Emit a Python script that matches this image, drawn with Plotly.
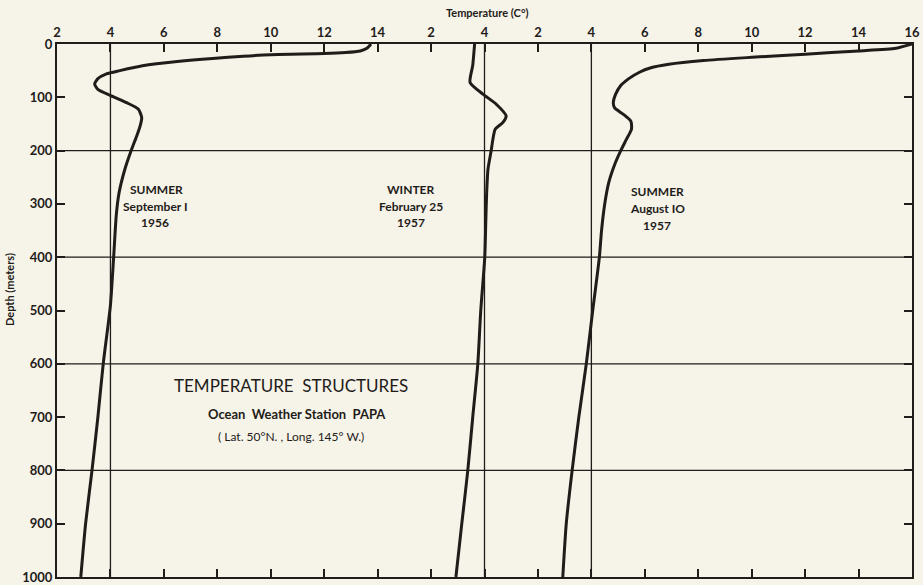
import plotly.graph_objects as go

# ---- data ----
SEPT_DEPTH = [0, 8, 13, 16, 18, 20, 25, 33, 41, 50, 56, 65, 75, 85, 96, 110, 122, 138, 154, 173, 198, 235, 280, 320, 400, 490, 600, 700, 800, 900, 1000]
SEPT_TEMP = [13.75, 13.6, 13.35, 12.8, 12.0, 10.0, 8.4, 6.5, 5.2, 4.35, 3.85, 3.53, 3.41, 3.53, 3.97, 4.6, 5.04, 5.17, 5.11, 4.98, 4.79, 4.54, 4.32, 4.22, 4.12, 4.0, 3.73, 3.53, 3.31, 3.07, 2.89]

WINTER_DEPTH = [0, 40, 72, 94, 113, 135, 147, 160, 180, 200, 235, 280, 330, 400, 500, 600, 700, 800, 900, 1000]
WINTER_TEMP = [3.63, 3.56, 3.46, 3.94, 4.44, 4.81, 4.69, 4.4, 4.31, 4.25, 4.13, 4.08, 4.05, 4.01, 3.86, 3.75, 3.56, 3.375, 3.15, 2.93]

AUG_DEPTH = [0, 8, 13, 19, 25, 31, 38, 45, 53, 65, 78, 95, 110, 120, 132, 145, 160, 180, 200, 225, 260, 300, 350, 400, 500, 600, 700, 800, 900, 1000]
AUG_TEMP = [16.0, 15.4, 14.0, 12.0, 10.0, 8.2, 6.9, 6.2, 5.8, 5.4, 5.1, 4.9, 4.82, 4.87, 5.2, 5.48, 5.5, 5.3, 5.1, 4.88, 4.65, 4.5, 4.38, 4.3, 4.05, 3.81, 3.53, 3.28, 3.06, 2.93]

# composite temperature scale: each profile has its own offset on one shared axis
SEPT_OFFSET = 0
WINTER_OFFSET = 14
AUG_OFFSET = 18

TICK_VALUES = list(range(2, 35, 2))
TICK_LABELS = ["2", "4", "6", "8", "10", "12", "14", "2", "4", "2", "4", "6", "8", "10", "12", "14", "16"]

DEPTH_TICKS = list(range(0, 1001, 100))
DEPTH_GRID = [200, 400, 600, 800]
REF_TEMP = 4  # vertical reference at 4 C° for each profile

INK = "#1f1c1a"
PAPER = "#f6f3e8"
FONT = "Lato"

# plot-area geometry (pixels)
L, R, T, B = 57, 912, 44, 577
W, H = 923, 585

fig = go.Figure()
for depth, temp, off in [(SEPT_DEPTH, SEPT_TEMP, SEPT_OFFSET),
                         (WINTER_DEPTH, WINTER_TEMP, WINTER_OFFSET),
                         (AUG_DEPTH, AUG_TEMP, AUG_OFFSET)]:
    fig.add_trace(go.Scatter(
        x=[t + off for t in temp], y=depth, mode="lines",
        line=dict(color=INK, width=3, shape="spline", smoothing=0.6),
        showlegend=False, hoverinfo="skip"))

shapes = []
for d in DEPTH_GRID:
    shapes.append(dict(type="line", xref="paper", yref="y", x0=0, x1=1, y0=d, y1=d,
                       line=dict(color=INK, width=1.3), layer="below"))
for off in [SEPT_OFFSET, WINTER_OFFSET, AUG_OFFSET]:
    shapes.append(dict(type="line", xref="x", yref="paper", x0=REF_TEMP + off, x1=REF_TEMP + off,
                       y0=0, y1=1, line=dict(color=INK, width=1.3), layer="below"))

ann = []
def txt(px, py, s, size=12, bold=True, angle=0):
    ann.append(dict(x=(px - L) / (R - L), y=(B - py) / (B - T), xref="paper", yref="paper",
                    text=s, showarrow=False, textangle=angle,
                    font=dict(family=FONT, size=size, color=INK, weight="bold" if bold else "normal"),
                    xanchor="center", yanchor="middle"))

txt(156, 189, "SUMMER")
txt(155, 206, "September I")
txt(155, 222, "1956")
txt(411, 189, "WINTER")
txt(411, 206, "February 25")
txt(411, 222, "1957")
txt(657, 192, "SUMMER")
txt(657, 209, "August IO")
txt(657, 226, "1957")
txt(291, 385, "TEMPERATURE  STRUCTURES", size=17, bold=False)
txt(297, 414, "Ocean  Weather Station  PAPA", size=13)
txt(291, 436, "( Lat. 50°N. , Long. 145° W.)", size=12, bold=False)
txt(487, 12, "Temperature (C°)", size=11)
txt(9, 290, "Depth (meters)", size=11, angle=-90)

fig.update_layout(
    width=W, height=H,
    margin=dict(l=L, r=W - R, t=T, b=H - B, autoexpand=False),
    paper_bgcolor=PAPER, plot_bgcolor=PAPER,
    shapes=shapes, annotations=ann,
    font=dict(family=FONT, color=INK),
    xaxis=dict(range=[2, 34], side="top", tickmode="array", tickvals=TICK_VALUES, ticktext=TICK_LABELS,
               ticks="inside", ticklen=8, tickwidth=2, tickcolor=INK,
               showline=True, linewidth=2, linecolor=INK, mirror="ticks",
               showgrid=False, zeroline=False, automargin=False, ticklabeloverflow="allow",
               tickfont=dict(family=FONT, size=13, color=INK, weight="bold")),
    yaxis=dict(range=[1000, 0], tickmode="array", tickvals=DEPTH_TICKS,
               ticks="inside", ticklen=8, tickwidth=2, tickcolor=INK,
               showline=True, linewidth=2, linecolor=INK, mirror="ticks",
               showgrid=False, zeroline=False, automargin=False, ticklabeloverflow="allow",
               tickfont=dict(family=FONT, size=13, color=INK, weight="bold")),
)

fig.write_html("out.html",
               config={"displayModeBar": False},
               post_script="document.body.style.margin='0';document.body.style.overflow='hidden';"
                           "document.body.style.background='" + PAPER + "';")
